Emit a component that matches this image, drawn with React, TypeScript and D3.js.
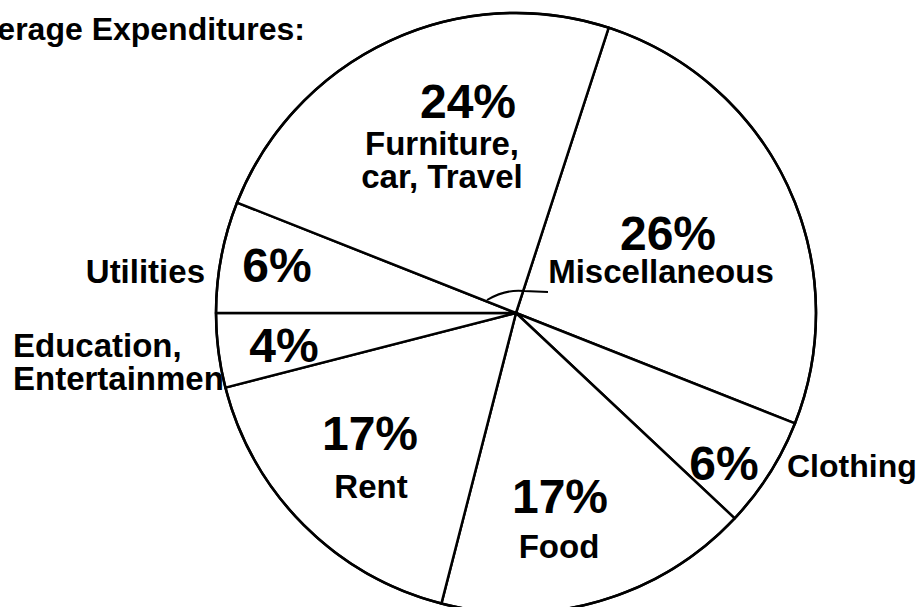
import React from "react";
import * as d3 from "d3";

const categories = ["Miscellaneous", "Clothing", "Food", "Rent", "Education, Entertainment", "Utilities", "Furniture, car, Travel"];
const values = [26, 6, 17, 17, 4, 6, 24];
const pctLabels = ["26%", "6%", "17%", "17%", "4%", "6%", "24%"];
const title = "Average Expenditures:";

const W = 920, H = 607;
const cx = 516, cy = 313, R = 300;
const startDeg = 18;

type Lab = { dx: number; dy: number; size: number; anchor: string };
// label placements relative to the pie centre
const pctPos: Lab[] = [
  { dx: 152, dy: -63, size: 48, anchor: "middle" },
  { dx: 208, dy: 167, size: 48, anchor: "middle" },
  { dx: 44, dy: 200, size: 48, anchor: "middle" },
  { dx: -146, dy: 137, size: 48, anchor: "middle" },
  { dx: -232, dy: 49, size: 48, anchor: "middle" },
  { dx: -239, dy: -31, size: 48, anchor: "middle" },
  { dx: -48, dy: -195, size: 48, anchor: "middle" },
];
const nameLines: string[][] = [["Miscellaneous"], ["Clothing"], ["Food"], ["Rent"], ["Education,", "Entertainment"], ["Utilities"], ["Furniture,", "car, Travel"]];
const namePos: Lab[] = [
  { dx: 145, dy: -30, size: 33, anchor: "middle" },
  { dx: 271, dy: 164, size: 32, anchor: "start" },
  { dx: 43, dy: 245, size: 33, anchor: "middle" },
  { dx: -145, dy: 185, size: 33, anchor: "middle" },
  { dx: -503, dy: 44, size: 33, anchor: "start" },
  { dx: -311, dy: -30, size: 33, anchor: "end" },
  { dx: -74, dy: -158, size: 33, anchor: "middle" },
];
const lineGap = 33;

export default function App() {
  const pie = d3.pie<number>().sort(null).value((d) => d)
    .startAngle((startDeg * Math.PI) / 180)
    .endAngle((startDeg * Math.PI) / 180 + 2 * Math.PI);
  const arcs = pie(values);
  const arc = d3.arc<d3.PieArcDatum<number>>().innerRadius(0).outerRadius(R);
  const font = "'Liberation Sans', Arial, Helvetica, sans-serif";
  const behind = (i: number) => i === 4 || i === 5 || i === 1;
  const nameText = (i: number) => (
    <text key={"n" + i} x={cx + namePos[i].dx} y={cy + namePos[i].dy} fontFamily={font} fontWeight="bold" fontSize={namePos[i].size} textAnchor={namePos[i].anchor} fill="#000">
      {nameLines[i].map((l, j) => (<tspan key={j} x={cx + namePos[i].dx} dy={j === 0 ? 0 : lineGap}>{l}</tspan>))}
    </text>
  );
  return (
    <svg width={W} height={H} style={{ position: "absolute", left: 0, top: 0, background: "#fff" }}>
      <rect width={W} height={H} fill="#fff" />
      <text x={305} y={40} fontFamily={font} fontWeight="bold" fontSize={32} textAnchor="end" fill="#000">{title}</text>
      {nameLines.map((_, i) => (behind(i) ? nameText(i) : null))}
      <g transform={`translate(${cx},${cy})`}>
        {arcs.map((a, i) => (
          <path key={i} d={arc(a) || ""} fill="#fff" stroke="#000" strokeWidth={2.5} strokeLinejoin="round" />
        ))}
        <circle r={R} fill="none" stroke="#000" strokeWidth={2.5} />
        <path d={`M${-29},${-13} Q${-10},${-24} ${8},${-22} L${32},${-21}`} fill="none" stroke="#000" strokeWidth={2} />
      </g>
      {pctLabels.map((p, i) => (
        <text key={"p" + i} x={cx + pctPos[i].dx} y={cy + pctPos[i].dy} fontFamily={font} fontWeight="bold" fontSize={pctPos[i].size} textAnchor={pctPos[i].anchor} fill="#000">{p}</text>
      ))}
      {nameLines.map((_, i) => (behind(i) ? null : nameText(i)))}
    </svg>
  );
}
